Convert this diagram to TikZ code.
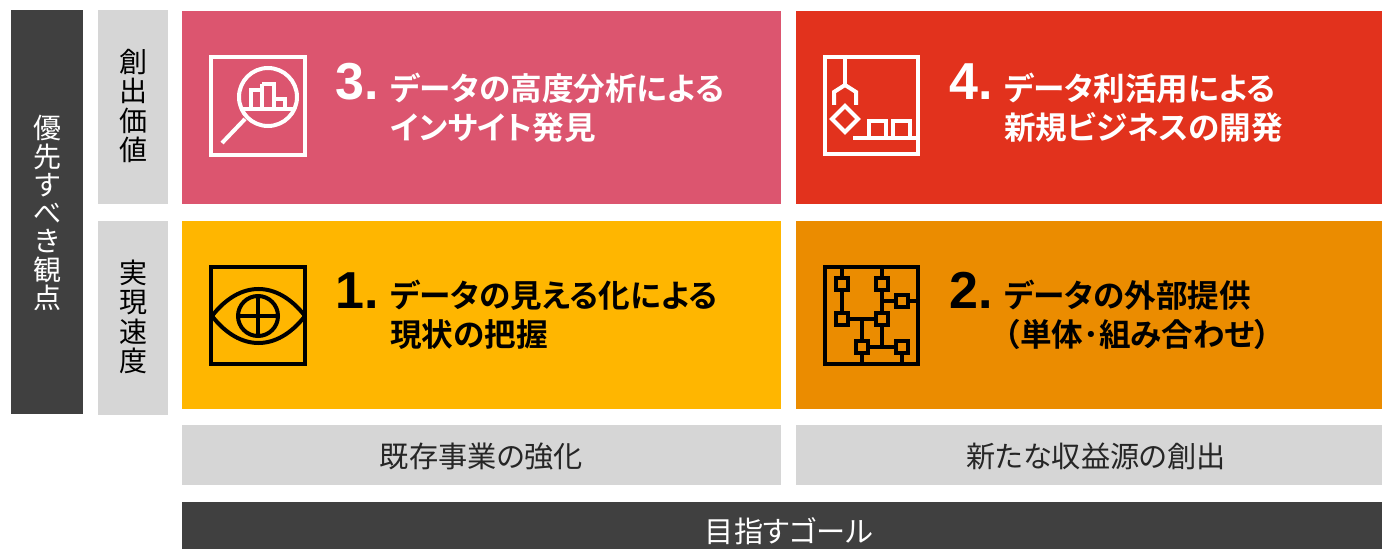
\documentclass[tikz,border=0pt]{standalone}
\usepackage{fontspec}
\setmainfont{Liberation Sans}
\newfontfamily\jp{Noto Sans CJK JP}
\newfontfamily\jpp[RawFeature={+palt}]{Noto Sans CJK JP}
\newfontfamily\jpb[RawFeature={+palt}]{Noto Sans CJK JP Bold}
\definecolor{cpink}{HTML}{DC556F}
\definecolor{cred}{HTML}{E2321D}
\definecolor{cyel}{HTML}{FFB600}
\definecolor{corg}{HTML}{EB8C00}
\definecolor{cgrey}{HTML}{D6D6D6}
\definecolor{cdark}{HTML}{404040}
\tikzset{x=0.75pt,y=-0.75pt,
 card/.style={anchor=north west,inner sep=0,outer sep=0},
 lab/.style={font=\jpp\fontsize{21.9}{21.9}\selectfont,inner sep=0,text=black!85},
 goallab/.style={font=\jpp\fontsize{21.9}{21.9}\selectfont,inner sep=0,text=white},
 vert/.style={font=\jp\fontsize{21}{22}\selectfont,inner sep=0,align=center},
 sidev/.style={font=\jp\fontsize{21}{21.2}\selectfont,inner sep=0,align=center},
 num/.style={font=\fontsize{39}{39}\selectfont\bfseries,inner sep=0,anchor=base west},
 head/.style={font=\jpb\fontsize{23.7}{29}\selectfont,inner sep=0,anchor=north west,align=left},
 ico/.style={line width=3pt,line cap=butt,line join=miter},
 thinico/.style={line width=2.4pt,line cap=butt,line join=miter},
}
\newcommand{\rbox}[6]{\node[card,fill=#6,minimum width=#4*0.75pt,minimum height=#5*0.75pt] (#1) at (#2,#3) {};}
\begin{document}
\lineskiplimit=-20pt
\lineskip=0pt
\begin{tikzpicture}
\useasboundingbox (0,0) rectangle (1382,549);
\rbox{side}{11}{10}{72}{404}{cdark}
\rbox{vA}{98}{10}{70}{194}{cgrey}
\rbox{vB}{98}{221}{70}{194}{cgrey}
\rbox{c3}{182}{11}{599}{193}{cpink}
\rbox{c4}{796}{11}{586}{193}{cred}
\rbox{c1}{182}{221}{599}{188}{cyel}
\rbox{c2}{796}{221}{586}{188}{corg}
\rbox{gA}{182}{425}{599}{60}{cgrey}
\rbox{gB}{796}{425}{586}{60}{cgrey}
\rbox{goal}{182}{502}{1200}{47}{cdark}
\node[sidev,text=white] (sideT) at (47,213) {優\\先\\す\\べ\\き\\観\\点};
\node[vert] (vAT) at (133,106) {創\\出\\価\\値};
\node[vert] (vBT) at (133,317) {実\\現\\速\\度};
\node[lab] (gAT) at (481.5,456) {既存事業の強化};
\node[lab] (gBT) at (1096,456) {新たな収益源の創出};
\node[goallab] (goalT) at (789,531) {目指すゴール};
% numbers
\node[num,text=white] (n3) at (335,100) {3.};
\node[num,text=white] (n4) at (949,100) {4.};
\node[num,text=black] (n1) at (335,308) {1.};
\node[num,text=black] (n2) at (949,308) {2.};
\node[head,text=white] (t3) at (390,73) {データの高度分析による\\インサイト発見};
\node[head,text=white] (t4) at (1004,73) {データ利活用による\\新規ビジネスの開発};
\node[head,text=black] (t1) at (390,280) {データの見える化による\\現状の把握};
\node[head,text=black] (t2) at (1004,280) {データの外部提供\\（単体･組み合わせ）};
% icon 3
\begin{scope}[white,ico]
\draw (211,57) rectangle (305,155);
\draw (268,97) circle (29);
\draw (222,143) -- (245,119);
\draw (240,109) -- (295,109);
\end{scope}
\begin{scope}[white,thinico]
\draw (251,109) -- (251,90) -- (262,90) -- (262,109);
\draw (262,84) -- (274,84) -- (274,109);
\draw (274,99) -- (285,99) -- (285,109);
\draw (262,90) -- (262,84);
\end{scope}
% icon 4
\begin{scope}[white,ico]
\draw (825,57) rectangle (918,154);
\draw (845,55) -- (845,85);
\draw (834,105) -- (834,92) -- (845,85) -- (856,92) -- (856,105);
\draw (845,106) -- (858,119) -- (845,132) -- (832,119) -- cycle;
\draw (853,138) -- (918,138);
\draw (868.5,138) -- (868.5,121) -- (886,121) -- (886,138);
\draw (892.5,138) -- (892.5,121) -- (910,121) -- (910,138);
\end{scope}
% icon 1
\begin{scope}[black,ico]
\draw (211,267) rectangle (305,364);
\draw (212,316) .. controls (240,280) and (277,280) .. (305,316);
\draw (212,316) .. controls (240,352) and (277,352) .. (305,316);
\draw (258,316) circle (20);
\draw (258,296) -- (258,336);
\draw (238,316) -- (278,316);
\end{scope}
% icon 2
\begin{scope}[black,ico]
\draw (825,267) rectangle (918,364);
\draw (842,267) -- (842,319);
\draw (882,267) -- (882,347);
\draw (882,301) -- (918,301);
\draw (842,319) -- (882,319);
\draw (862,319) -- (862,364);
\draw (862,347) -- (902,347) -- (902,364);
\end{scope}
\foreach \p/\q in {842/284,882/284,902/301,842/319,882/319,862/347,902/347}{
 \draw[black,ico,fill=corg] (\p-6,\q-6) rectangle (\p+6,\q+6);
}
\end{tikzpicture}
\end{document}
